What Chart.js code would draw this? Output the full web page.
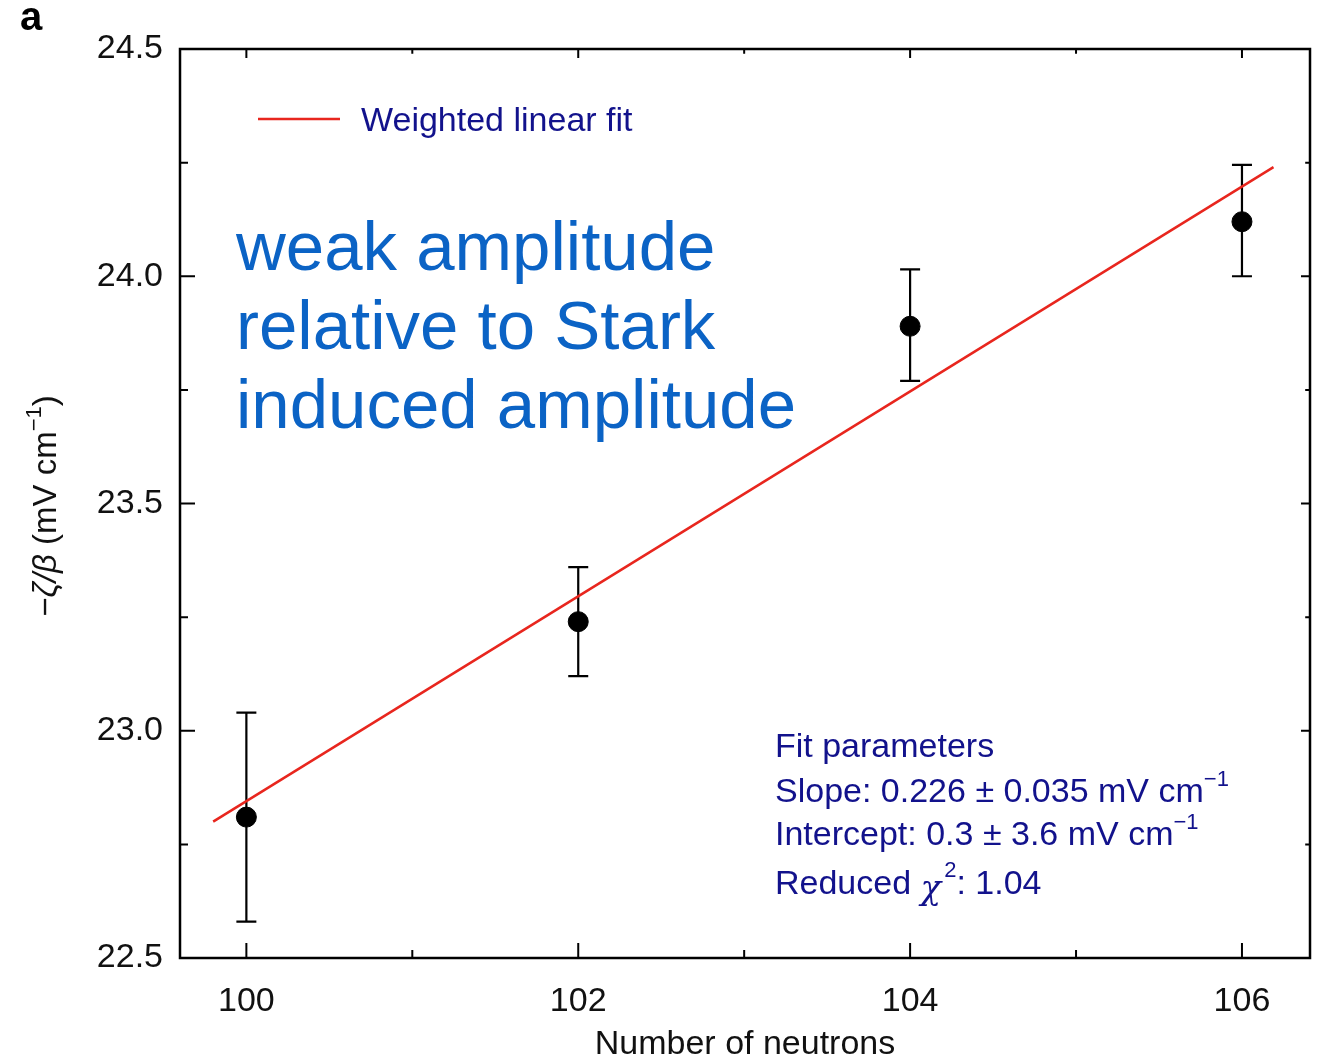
<!DOCTYPE html>
<html>
<head>
<meta charset="utf-8">
<script src="https://cdn.jsdelivr.net/npm/chart.js@4.4.1/dist/chart.umd.min.js"></script>
<style>
  html, body { margin: 0; padding: 0; background: #fff; }
  #wrap { width: 1323px; height: 1059px; }
</style>
</head>
<body>
<div id="wrap"><canvas id="c" width="1323" height="1059"></canvas></div>
<script>
// ---- data ----
const xValues   = [100, 102, 104, 106];
const yValues   = [22.81, 23.24, 23.89, 24.12];
const yErrLow   = [22.58, 23.12, 23.77, 24.00];
const yErrHigh  = [23.04, 23.36, 24.015, 24.245];
const fitX      = [99.8, 106.19];
const fitY      = [22.80, 24.24];
const xTickValues = [100, 102, 104, 106];
const xMinorTicks = [101, 103, 105];
const yTickValues = [22.5, 23.0, 23.5, 24.0, 24.5];
const yMinorTicks = [22.75, 23.25, 23.75, 24.25];
const annotationLines = ['weak amplitude', 'relative to Stark', 'induced amplitude'];

const FONT = '"Liberation Sans", Arial, Helvetica, sans-serif';
const NAVY = '#12128c';
const RED = '#e8261e';
const BLUE = '#0b63c5';

function drawRich(ctx, x, y, segs) {
  let cx = x;
  for (const s of segs) {
    ctx.font = s.font;
    cx += (s.dx || 0);
    ctx.fillText(s.t, cx, y + (s.dy || 0));
    cx += ctx.measureText(s.t).width;
  }
  return cx - x;
}
function richWidth(ctx, segs) {
  let w = 0;
  for (const s of segs) { ctx.font = s.font; w += ctx.measureText(s.t).width + (s.dx || 0); }
  return w;
}

const decorPlugin = {
  id: 'decor',
  beforeDatasetsDraw(chart) {
    const ctx = chart.ctx, xs = chart.scales.x, ys = chart.scales.y;
    ctx.save();
    ctx.strokeStyle = '#000';
    ctx.lineWidth = 2.2;
    for (let i = 0; i < xValues.length; i++) {
      const px = xs.getPixelForValue(xValues[i]);
      const pt = ys.getPixelForValue(yErrHigh[i]);
      const pb = ys.getPixelForValue(yErrLow[i]);
      ctx.beginPath();
      ctx.moveTo(px, pt); ctx.lineTo(px, pb);
      ctx.moveTo(px - 10, pt); ctx.lineTo(px + 10, pt);
      ctx.moveTo(px - 10, pb); ctx.lineTo(px + 10, pb);
      ctx.stroke();
    }
    ctx.restore();
  },
  afterDraw(chart) {
    const ctx = chart.ctx, xs = chart.scales.x, ys = chart.scales.y;
    const a = chart.chartArea;
    ctx.save();
    // frame
    ctx.strokeStyle = '#000';
    ctx.lineWidth = 2.5;
    ctx.strokeRect(a.left, a.top, a.right - a.left, a.bottom - a.top);
    // inward ticks
    ctx.lineWidth = 2;
    ctx.beginPath();
    const tk = (vals, len) => {
      for (const v of vals) {
        const px = xs.getPixelForValue(v);
        ctx.moveTo(px, a.bottom); ctx.lineTo(px, a.bottom - len);
        ctx.moveTo(px, a.top); ctx.lineTo(px, a.top + len * 0.6);
      }
    };
    const tky = (vals, len) => {
      for (const v of vals) {
        const py = ys.getPixelForValue(v);
        ctx.moveTo(a.left, py); ctx.lineTo(a.left + len, py);
        ctx.moveTo(a.right, py); ctx.lineTo(a.right - len * 0.6, py);
      }
    };
    tk(xTickValues, 15); tk(xMinorTicks, 8);
    tky(yTickValues, 15); tky(yMinorTicks, 8);
    ctx.stroke();

    // panel letter
    ctx.fillStyle = '#000';
    ctx.font = 'bold 40px ' + FONT;
    ctx.textBaseline = 'alphabetic';
    ctx.textAlign = 'left';
    ctx.fillText('a', 20, 30);

    // legend
    ctx.strokeStyle = RED;
    ctx.lineWidth = 2.5;
    ctx.beginPath(); ctx.moveTo(258, 119); ctx.lineTo(340, 119); ctx.stroke();
    ctx.fillStyle = NAVY;
    ctx.font = '34px ' + FONT;
    ctx.fillText('Weighted linear fit', 361, 131);

    // blue annotation
    ctx.fillStyle = BLUE;
    ctx.font = '300 69px ' + FONT;
    const base = [270, 349, 428];
    annotationLines.forEach((t, i) => ctx.fillText(t, 236, base[i]));

    // fit parameters
    ctx.fillStyle = NAVY;
    const f = '34px ' + FONT, fs = '22px ' + FONT, fi = 'italic 34px "DejaVu Serif", serif';
    drawRich(ctx, 775, 757, [{t: 'Fit parameters', font: f}]);
    drawRich(ctx, 775, 802, [{t: 'Slope: 0.226 \u00b1 0.035 mV cm', font: f}, {t: '\u22121', font: fs, dy: -16}]);
    drawRich(ctx, 775, 845, [{t: 'Intercept: 0.3 \u00b1 3.6 mV cm', font: f}, {t: '\u22121', font: fs, dy: -16}]);
    drawRich(ctx, 775, 894, [{t: 'Reduced ', font: f}, {t: '\u03c7', font: fi, dy: 5}, {t: '2', font: fs, dy: -17, dx: 3}, {t: ': 1.04', font: f}]);

    // x axis title
    ctx.fillStyle = '#111';
    ctx.font = '34px ' + FONT;
    ctx.textAlign = 'center';
    ctx.fillText('Number of neutrons', 745, 1054);

    // y axis title (rotated)
    ctx.textAlign = 'left';
    const fy = '33px ' + FONT;
    const ysegs = [
      {t: '\u2212', font: fy},
      {t: '\u03b6/\u03b2', font: 'italic 33px ' + FONT},
      {t: ' (mV cm', font: fy},
      {t: '\u22121', font: '22px ' + FONT, dy: -15},
      {t: ')', font: fy}
    ];
    const w = richWidth(ctx, ysegs);
    ctx.translate(56, 506);
    ctx.rotate(-Math.PI / 2);
    drawRich(ctx, -w / 2, 0, ysegs);
    ctx.restore();
  }
};

const chart = new Chart(document.getElementById('c'), {
  type: 'scatter',
  data: {
    datasets: [
      {
        type: 'line',
        label: 'Weighted linear fit',
        data: fitX.map((x, i) => ({x, y: fitY[i]})),
        borderColor: RED,
        borderWidth: 2.5,
        pointRadius: 0,
        fill: false,
        tension: 0
      },
      {
        label: 'data',
        data: xValues.map((x, i) => ({x, y: yValues[i]})),
        backgroundColor: '#000',
        borderColor: '#000',
        pointRadius: 10,
        pointHoverRadius: 10
      }
    ]
  },
  options: {
    responsive: false,
    animation: false,
    devicePixelRatio: 1,
    layout: { padding: { left: 0, top: 49, right: 13, bottom: 0 } },
    plugins: { legend: { display: false }, tooltip: { enabled: false } },
    scales: {
      x: {
        type: 'linear',
        min: 99.6, max: 106.41,
        afterBuildTicks: s => { s.ticks = xTickValues.map(v => ({value: v})); },
        afterFit: s => { s.height = 101; },
        grid: { display: false, drawTicks: false },
        border: { display: false },
        ticks: { color: '#111', font: { family: FONT, size: 34 }, padding: 23, maxRotation: 0,
                 callback: v => String(v) }
      },
      y: {
        type: 'linear',
        min: 22.5, max: 24.5,
        afterBuildTicks: s => { s.ticks = yTickValues.map(v => ({value: v})); },
        afterFit: s => { s.width = 180; },
        grid: { display: false, drawTicks: false },
        border: { display: false },
        ticks: { color: '#111', font: { family: FONT, size: 34 }, padding: 17,
                 callback: v => Number(v).toFixed(1) }
      }
    }
  },
  plugins: [decorPlugin]
});
</script>
</body>
</html>
